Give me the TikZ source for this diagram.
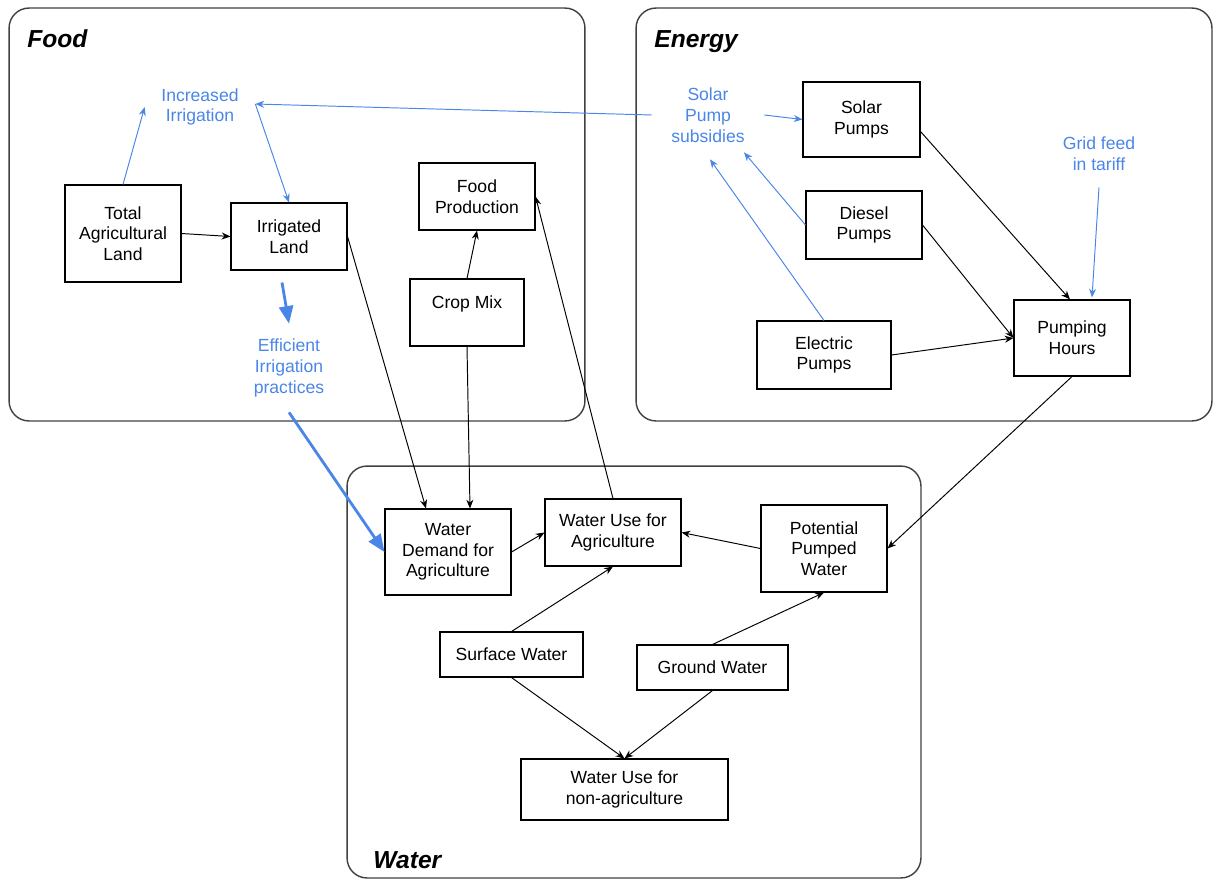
\documentclass[tikz,border=0pt]{standalone}
\usepackage{fontspec}
\setmainfont{Liberation Sans}
\usetikzlibrary{arrows.meta}
\definecolor{noteblue}{HTML}{4A86E8}
\begin{document}
\begin{tikzpicture}[x=0.02cm,y=-0.02cm,
  areastyle/.style={draw=black!75,line width=0.8pt,rounded corners=0.4cm,minimum width=11.52cm,minimum height=8.26cm,inner sep=0},
  titlestyle/.style={anchor=base west,inner sep=0,font=\fontsize{14}{16}\selectfont\bfseries\itshape},
  blockstyle/.style={draw,line width=0.6pt,align=center,inner sep=0,font=\fontsize{10}{11.8}\selectfont},
  notestyle/.style={text=noteblue,align=center,inner sep=0,font=\fontsize{10}{11.8}\selectfont},
  linkstyle/.style={-{Stealth[length=5pt,width=4pt]},line width=0.55pt},
  bluelink/.style={linkstyle,color=noteblue},
  thicklink/.style={-{Triangle[length=10pt,width=8pt]},line width=1.6pt,color=noteblue}]
\useasboundingbox (0,0) rectangle (1214,880);
\node[areastyle] (food) at (297,214.5) {};
\node[areastyle] (energy) at (924,214.5) {};
\node[areastyle,minimum width=11.48cm,minimum height=8.24cm] (water) at (634,672) {};
\node[titlestyle] (foodtitle) at (27,47) {Food};
\node[titlestyle] (energytitle) at (654,47) {Energy};
\node[titlestyle] (watertitle) at (373,868) {Water};
\node[blockstyle,minimum width=2.32cm,minimum height=1.94cm] (totalland) at (123,233.5) {Total\\Agricultural\\Land};
\node[blockstyle,minimum width=2.32cm,minimum height=1.34cm] (irrland) at (289,236.5) {Irrigated\\Land};
\node[blockstyle,minimum width=2.32cm,minimum height=1.34cm] (foodprod) at (477,196.5) {Food\\Production};
\node[blockstyle,minimum width=2.28cm,minimum height=1.34cm] (cropmix) at (467,312.5) {Crop Mix\\\mbox{}};
\node[blockstyle,minimum width=2.34cm,minimum height=1.5cm] (solarpumps) at (861.5,119.5) {Solar\\Pumps};
\node[blockstyle,minimum width=2.32cm,minimum height=1.36cm] (dieselpumps) at (864,225) {Diesel\\Pumps};
\node[blockstyle,minimum width=2.68cm,minimum height=1.36cm] (electricpumps) at (824,355) {Electric\\Pumps};
\node[blockstyle,minimum width=2.32cm,minimum height=1.52cm] (pumphours) at (1072,338) {Pumping\\Hours};
\node[blockstyle,minimum width=2.52cm,minimum height=1.72cm] (waterdemand) at (448,552) {Water\\Demand for\\Agriculture};
\node[blockstyle,minimum width=2.72cm,minimum height=1.34cm] (agriuse) at (613,532.5) {Water Use for\\Agriculture};
\node[blockstyle,minimum width=2.52cm,minimum height=1.74cm] (pumpedwater) at (824,548.5) {Potential\\Pumped\\Water};
\node[blockstyle,minimum width=2.86cm,minimum height=0.9cm] (surfacewater) at (511.5,654.5) {Surface Water};
\node[blockstyle,minimum width=3.02cm,minimum height=0.9cm] (groundwater) at (712.5,667.5) {Ground Water};
\node[blockstyle,minimum width=4.14cm,minimum height=1.22cm] (nonagriuse) at (624.5,789.5) {Water Use for\\non-agriculture};
\node[notestyle,minimum width=2.2cm,minimum height=1cm] (moreirrigation) at (200,107) {Increased\\Irrigation};
\node[notestyle,minimum width=2.24cm,minimum height=1.48cm] (subsidies) at (708,115) {Solar\\Pump\\subsidies};
\node[notestyle,minimum height=1.32cm] (gridtariff) at (1099,154) {Grid feed\\in tariff};
\node[notestyle,minimum height=1.76cm] (efficientirr) at (289,368) {Efficient\\Irrigation\\practices};
\draw[bluelink] (totalland.north) -- (moreirrigation.west);
\draw[bluelink] ([shift={(0,-3)}]moreirrigation.east) -- (irrland.north);
\draw[bluelink] (subsidies.west) -- ([shift={(0,-3)}]moreirrigation.east);
\draw[bluelink] (subsidies.east) -- (solarpumps.west);
\draw[bluelink] (dieselpumps.west) -- ([shift={(36,0)}]subsidies.south);
\draw[bluelink] (electricpumps.north) -- ([shift={(2,7)}]subsidies.south);
\draw[bluelink] (gridtariff.south) -- ([shift={(20,-2)}]pumphours.north);
\draw[thicklink] ([shift={(-7,12)}]irrland.south) -- (efficientirr.north);
\draw[thicklink] (efficientirr.south) -- (waterdemand.west);
\draw[linkstyle] (totalland.east) -- (irrland.west);
\draw[linkstyle] (irrland.east) -- ([shift={(-22,0)}]waterdemand.north);
\draw[linkstyle] (cropmix.north) -- (foodprod.south);
\draw[linkstyle] (cropmix.south) -- ([shift={(22,0)}]waterdemand.north);
\draw[linkstyle] (agriuse.north) -- (foodprod.east);
\draw[linkstyle] (waterdemand.east) -- (agriuse.west);
\draw[linkstyle] (pumpedwater.west) -- (agriuse.east);
\draw[linkstyle] (pumphours.south) -- (pumpedwater.east);
\draw[linkstyle] ([shift={(0,12)}]solarpumps.east) -- ([shift={(-2,0)}]pumphours.north);
\draw[linkstyle] (dieselpumps.east) -- (pumphours.west);
\draw[linkstyle] (electricpumps.east) -- (pumphours.west);
\draw[linkstyle] (surfacewater.north) -- (agriuse.south);
\draw[linkstyle] (groundwater.north) -- (pumpedwater.south);
\draw[linkstyle] (surfacewater.south) -- (nonagriuse.north);
\draw[linkstyle] (groundwater.south) -- (nonagriuse.north);
\end{tikzpicture}
\end{document}
